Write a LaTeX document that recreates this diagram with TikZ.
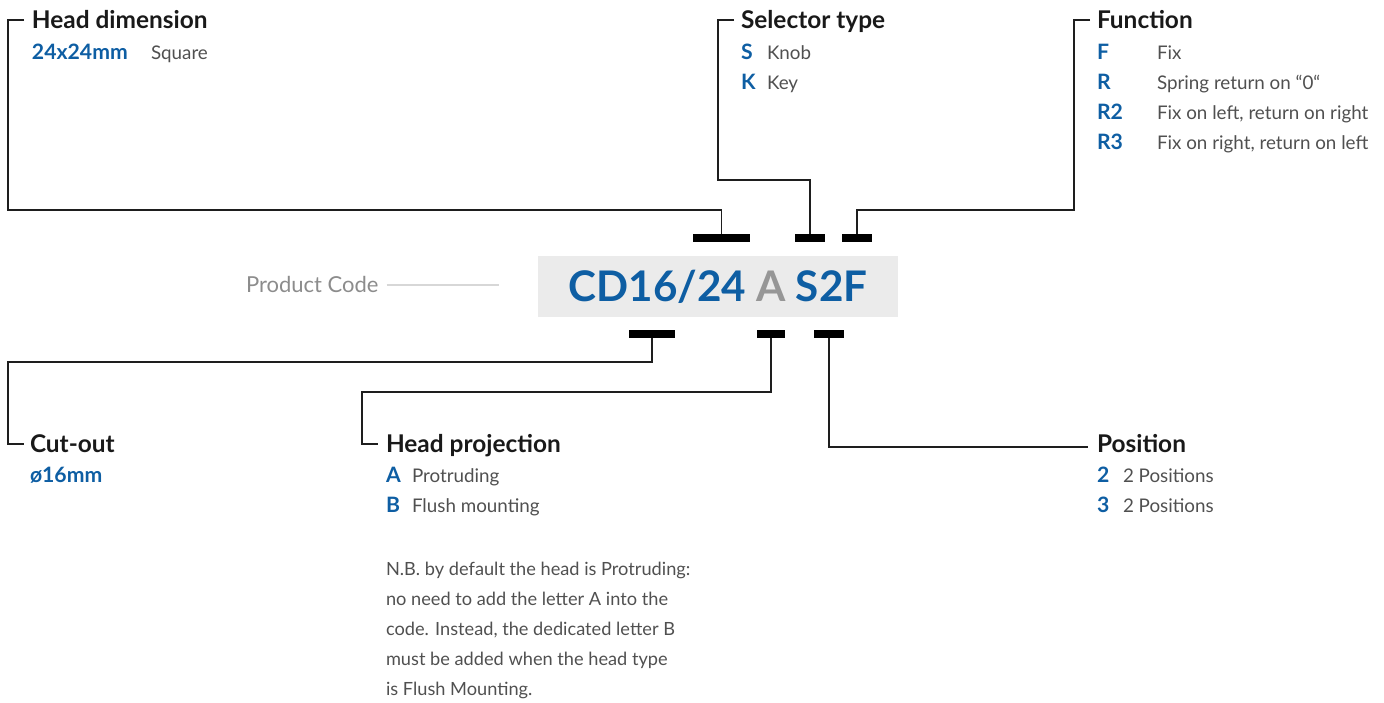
\documentclass[tikz,border=0pt]{standalone}
\usepackage{fontspec}
\setmainfont{Lato}
\definecolor{blu}{RGB}{14,94,163}
\definecolor{boxgray}{RGB}{235,235,235}
\definecolor{codegray}{RGB}{150,150,150}
\definecolor{desc}{RGB}{80,80,80}
\definecolor{lead}{RGB}{30,30,30}
\definecolor{pcgray}{RGB}{140,140,140}
\definecolor{pcline}{RGB}{215,215,215}
\begin{document}
\begin{tikzpicture}[x=0.5pt,y=-0.5pt,
  every node/.style={inner sep=0pt, outer sep=0pt},
  ttl/.style={anchor=base west, font=\fontsize{12.2}{14}\selectfont\bfseries, text=black!90},
  key/.style={anchor=base west, font=\fontsize{10.6}{12}\selectfont\bfseries, text=blu},
  dsc/.style={anchor=base west, font=\fontsize{9.4}{11}\selectfont, text=desc},
  bar/.style={fill=black, minimum height=4pt},
  leader/.style={draw=lead, line width=0.75pt},
]
\useasboundingbox (0,0) rectangle (1384,702);

% product code box
\node[fill=boxgray, minimum width=180pt, minimum height=30.5pt] (box) at (717.7,286.2) {};
\node[anchor=base, font=\fontsize{21.1}{24}\selectfont\bfseries] (code) at (718,301)
  {\textcolor{blu}{CD16/24} \textcolor{codegray}{A} \textcolor{blu}{S2F}};
\node[anchor=base west, font=\fontsize{11}{13}\selectfont, text=pcgray] (pc) at (246,292.7) {Product Code};
\coordinate (pcB) at (499,0);
\draw[pcline, line width=1pt] ([xshift=4pt]pc.east) -- (pc.east -| pcB);

% bars
\node[bar, minimum width=28.5pt] (b1) at (721.5,238) {};
\node[bar, minimum width=15pt] (b2) at (810,238) {};
\node[bar, minimum width=15pt] (b3) at (857,238) {};
\node[bar, minimum width=23pt] (b4) at (652,334) {};
\node[bar, minimum width=14pt] (b5) at (771,334) {};
\node[bar, minimum width=15pt] (b6) at (829,334) {};

% Head dimension
\node[ttl] (hd) at (32,28) {Head dimension};
\node[key] (hdk) at (32,59) {24x24mm};
\node[dsc] (hdd) at (151,59) {Square};
\coordinate (hdA) at (24,20);
\coordinate (hdB) at (8,210);
\draw[leader] (hdA) -| (hdB) -| (b1.north);

% Selector type
\node[ttl] (st) at (741,28) {Selector type};
\node[key] (stk1) at (741,59) {S};
\node[dsc] (std1) at (767,59) {Knob};
\node[key] (stk2) at (741,89) {K};
\node[dsc] (std2) at (767,89) {Key};
\coordinate (stA) at (734,20);
\coordinate (stB) at (718,180);
\draw[leader] (stA) -| (stB) -| (b2.north);

% Function
\node[ttl] (fn) at (1097,28) {Function};
\node[key] (fnk1) at (1097,59) {F};
\node[dsc] (fnd1) at (1157,59) {Fix};
\node[key] (fnk2) at (1097,89) {R};
\node[dsc] (fnd2) at (1157,89) {Spring return on “0“};
\node[key] (fnk3) at (1097,119) {R2};
\node[dsc] (fnd3) at (1157,119) {Fix on left, return on right};
\node[key] (fnk4) at (1097,149) {R3};
\node[dsc] (fnd4) at (1157,149) {Fix on right, return on left};
\coordinate (fnA) at (1090,20);
\coordinate (fnB) at (1074,210);
\draw[leader] (fnA) -| (fnB) -| (b3.north);

% Cut-out
\node[ttl] (co) at (30,452) {Cut-out};
\node[key] (cok) at (30,482) {ø16mm};
\coordinate (coA) at (24,444);
\coordinate (coB) at (8,362);
\draw[leader] (b4.south) |- (coB) |- (coA);

% Head projection
\node[ttl] (hp) at (386,452) {Head projection};
\node[key] (hpk1) at (386,482) {A};
\node[dsc] (hpd1) at (412,482) {Protruding};
\node[key] (hpk2) at (386,512) {B};
\node[dsc] (hpd2) at (412,512) {Flush mounting};
\coordinate (hpA) at (378,444);
\coordinate (hpB) at (362,392);
\draw[leader] (b5.south) |- (hpB) |- (hpA);

\node[anchor=base west, align=left, font=\fontsize{9.1}{15}\selectfont, text=desc] (nb) at (386,695)
  {N.B. by default the head is Protruding:\\no need to add the letter A into the\\code. Instead, the dedicated letter B\\must be added when the head type\\is Flush Mounting.};

% Position
\node[ttl] (po) at (1097,452) {Position};
\node[key] (pok1) at (1097,482) {2};
\node[dsc] (pod1) at (1123,482) {2 Positions};
\node[key] (pok2) at (1097,512) {3};
\node[dsc] (pod2) at (1123,512) {2 Positions};
\coordinate (poA) at (1088,447);
\draw[leader] (b6.south) |- (poA);
\end{tikzpicture}
\end{document}
